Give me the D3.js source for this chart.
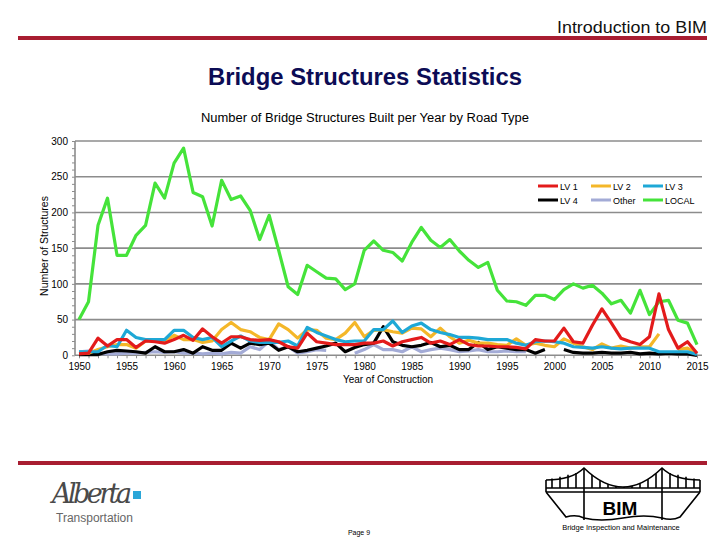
<!DOCTYPE html>
<html><head><meta charset="utf-8">
<script src="https://cdn.jsdelivr.net/npm/d3@7"></script>
<style>
body{margin:0;background:#fff;}
svg{display:block;font-family:"Liberation Sans",Arial,sans-serif;}
</style>
</head><body>
<svg id="c" width="720" height="540"></svg>
<script>
const years = [1950,1951,1952,1953,1954,1955,1956,1957,1958,1959,1960,1961,1962,1963,1964,1965,1966,1967,1968,1969,1970,1971,1972,1973,1974,1975,1976,1977,1978,1979,1980,1981,1982,1983,1984,1985,1986,1987,1988,1989,1990,1991,1992,1993,1994,1995,1996,1997,1998,1999,2000,2001,2002,2003,2004,2005,2006,2007,2008,2009,2010,2011,2012,2013,2014,2015];
const xTickLabels = [1950,1955,1960,1965,1970,1975,1980,1985,1990,1995,2000,2005,2010,2015];
const yTickLabels = [0,50,100,150,200,250,300];

const lv1 = [2,3,24,13,22,22,11,20,19,17,22,28,21,37,26,17,26,26,22,21,22,19,12,10,31,19,17,15,15,15,17,17,20,13,19,22,25,17,20,15,22,15,13,13,12,12,11,9,22,20,20,38,19,17,42,65,45,24,19,15,26,86,36,10,19,3];
const lv2 = [3,3,8,12,15,15,10,20,20,20,28,22,22,18,20,36,46,36,33,25,22,44,36,24,36,35,24,22,31,46,26,35,36,33,31,38,37,26,38,26,17,21,17,17,15,14,23,14,17,14,12,23,17,12,8,16,10,13,10,12,12,30,null,8,10,2];
const lv3 = [5,5,5,14,12,35,25,22,22,22,35,35,25,22,25,12,20,27,20,18,18,18,20,13,39,32,27,22,19,20,20,36,36,48,32,41,45,36,32,29,25,25,24,22,22,22,17,14,19,20,19,17,12,11,10,12,10,9,10,10,10,5,5,5,5,1];
const lv4 = [1,1,1,5,7,6,5,3,12,5,5,8,3,12,7,7,17,10,17,15,17,7,12,5,7,10,13,17,5,11,15,17,40,19,14,12,14,18,12,14,8,8,18,8,12,10,8,8,3,8,null,8,4,3,3,4,3,3,4,2,3,2,3,2,2,0];
const other = [5,6,3,2,2,3,3,4,5,4,5,3,3,2,3,2,4,3,12,8,20,8,12,3,5,8,7,null,null,3,8,15,8,8,5,12,5,8,10,8,5,6,8,5,5,6,5,5,null,null,null,5,null,null,null,null,null,null,null,null,null,null,null,null,null,null];
const local = [50,75,182,220,140,140,168,182,241,220,269,290,228,222,181,245,218,223,203,162,196,147,96,85,126,117,108,107,92,100,147,160,147,144,132,158,179,161,151,162,146,133,123,130,91,76,75,70,84,84,78,92,100,94,98,87,72,77,59,91,57,75,77,49,45,15];

const seriesNames = ["LV 1","LV 2","LV 3","LV 4","Other","LOCAL"];
const seriesData = [lv1, lv2, lv3, lv4, other, local];
const seriesColors = ["#e31b1b","#f4b729","#1ea8d6","#000000","#a3abd6","#45e33a"];

(function(){
const svg = d3.select("#c");

// header
svg.append("text").attr("x",707).attr("y",33).attr("text-anchor","end")
  .attr("font-size",16).attr("fill","#111").attr("textLength",150).attr("lengthAdjust","spacingAndGlyphs").text("Introduction to BIM");
svg.append("rect").attr("x",18).attr("y",36).attr("width",689).attr("height",4).attr("fill","#a81d31");
svg.append("text").attr("x",365).attr("y",85).attr("text-anchor","middle")
  .attr("font-size",23).attr("font-weight","bold").attr("fill","#0c0c55")
  .attr("textLength",314).attr("lengthAdjust","spacingAndGlyphs").text("Bridge Structures Statistics");
svg.append("text").attr("x",365).attr("y",122).attr("text-anchor","middle")
  .attr("font-size",12.5).attr("fill","#000").attr("textLength",328).attr("lengthAdjust","spacingAndGlyphs")
  .text("Number of Bridge Structures Built per Year by Road Type");

// chart
const pL = 75, pR = 702, pT = 141, pB = 355.3;
const x = d3.scaleLinear().domain([1950,2015]).range([79,697]);
const y = d3.scaleLinear().domain([0,300]).range([pB, pT]);

const g = svg.append("g");
g.selectAll("line.grid").data(yTickLabels.filter(v=>v>0)).enter().append("line")
  .attr("x1",pL).attr("x2",pR).attr("y1",d=>y(d)).attr("y2",d=>y(d))
  .attr("stroke","#8c8c8c").attr("stroke-width",1.6);

const yAxis = d3.axisLeft(y).tickValues(yTickLabels).tickSize(0).tickPadding(7);
const ya = g.append("g").attr("transform",`translate(${pL},0)`).call(yAxis);
ya.select(".domain").remove();
ya.selectAll("text").attr("font-size",10).attr("fill","#000").attr("font-family","Liberation Sans, Arial");
const yMinor = d3.axisLeft(y).ticks(30).tickSize(3).tickFormat("");
const ym = g.append("g").attr("transform",`translate(${pL},0)`).call(yMinor);
ym.select(".domain").remove();
ym.selectAll("line").attr("stroke","#8c8c8c");
g.append("line").attr("x1",pL).attr("x2",pL).attr("y1",pT).attr("y2",pB).attr("stroke","#8c8c8c").attr("stroke-width",1.6);

const xMinor = d3.axisBottom(x).tickValues(years).tickSize(3).tickFormat("");
const xm = g.append("g").attr("transform",`translate(0,${pB})`).call(xMinor);
xm.select(".domain").remove();
xm.selectAll("line").attr("stroke","#8c8c8c");
const xAxis = d3.axisBottom(x).tickValues(xTickLabels).tickSize(0).tickPadding(8).tickFormat(d3.format("d"));
const xa = g.append("g").attr("transform",`translate(0,${pB})`).call(xAxis);
xa.select(".domain").remove();
xa.selectAll("text").attr("font-size",10).attr("fill","#000").attr("font-family","Liberation Sans, Arial");
g.append("line").attr("x1",pL).attr("x2",pR).attr("y1",pB).attr("y2",pB).attr("stroke","#8c8c8c").attr("stroke-width",1.6);

svg.append("text").attr("transform","translate(48,246) rotate(-90)").attr("text-anchor","middle")
  .attr("font-size",10.5).attr("fill","#000").text("Number of Structures");
svg.append("text").attr("x",388).attr("y",383).attr("text-anchor","middle")
  .attr("font-size",10).attr("fill","#000").text("Year of Construction");

const line = d3.line().defined(d=>d[1]!=null).x(d=>x(d[0])).y(d=>y(d[1]));
const drawOrder = [5,4,3,1,2,0];
drawOrder.forEach(i=>{
  const pts = years.map((yr,k)=>[yr, seriesData[i][k]]);
  g.append("path").datum(pts).attr("d",line).attr("fill","none")
    .attr("stroke",seriesColors[i]).attr("stroke-width",3.2)
    .attr("stroke-linejoin","round");
});

const legX = [538,591,643], legY = [186,200];
seriesNames.forEach((n,i)=>{
  const lx = legX[i%3], ly = legY[Math.floor(i/3)];
  svg.append("line").attr("x1",lx).attr("x2",lx+20).attr("y1",ly).attr("y2",ly)
    .attr("stroke",seriesColors[i]).attr("stroke-width",3);
  svg.append("text").attr("x",lx+22).attr("y",ly+3.5).attr("font-size",9).attr("fill","#000").text(n);
});

// footer
svg.append("rect").attr("x",18).attr("y",461).attr("width",689).attr("height",4).attr("fill","#a81d31");
svg.append("text").attr("x",52).attr("y",503).attr("font-size",27).attr("font-style","italic")
  .attr("font-family","DejaVu Serif, serif").attr("fill","#4a4a4a").attr("textLength",80).text("Alberta");
svg.append("rect").attr("x",133).attr("y",491).attr("width",8).attr("height",8).attr("fill","#2aa6d8");
svg.append("text").attr("x",56).attr("y",522).attr("font-size",12).attr("fill","#666").text("Transportation");
svg.append("text").attr("x",359).attr("y",535).attr("text-anchor","middle").attr("font-size",7).attr("fill","#000").text("Page 9");

const b = svg.append("g").attr("fill","none").attr("stroke","#000").attr("stroke-width",1.6);
b.append("path").attr("d","M546,488 L700,488 M546,492 L700,492");
b.append("path").attr("d","M584,468 L584,520 M662,468 L662,520");
b.append("path").attr("d","M546,480 Q572,480 584,468 Q623,506 662,468 Q674,480 700,480");
const sus = [552,560,568,576,592,600,608,616,624,632,640,648,656,670,678,686,694];
sus.forEach(sx=>{
  let cy;
  if (sx<584){ cy = 480 - (sx-546)/38*9; }
  else if (sx<662){ const t=(sx-584)/78; cy = (1-t)*(1-t)*468 + 2*t*(1-t)*506 + t*t*468; }
  else { cy = 471 + (sx-662)/38*9; }
  b.append("line").attr("x1",sx).attr("x2",sx).attr("y1",cy).attr("y2",488);
});
b.append("path").attr("d","M546,480 L546,492 M700,480 L700,492");
b.append("path").attr("d","M546,492 L566,517 Q576,514 584,518 Q600,522 623,518 Q645,514 662,518 Q672,521 680,517 L700,492");
svg.append("text").attr("x",620).attr("y",515).attr("text-anchor","middle").attr("font-size",19)
  .attr("font-weight","bold").attr("fill","#000").text("BIM");
svg.append("text").attr("x",621).attr("y",530).attr("text-anchor","middle").attr("font-size",7.5)
  .attr("fill","#000").text("Bridge Inspection and Maintenance");
})();
</script>
</body></html>
